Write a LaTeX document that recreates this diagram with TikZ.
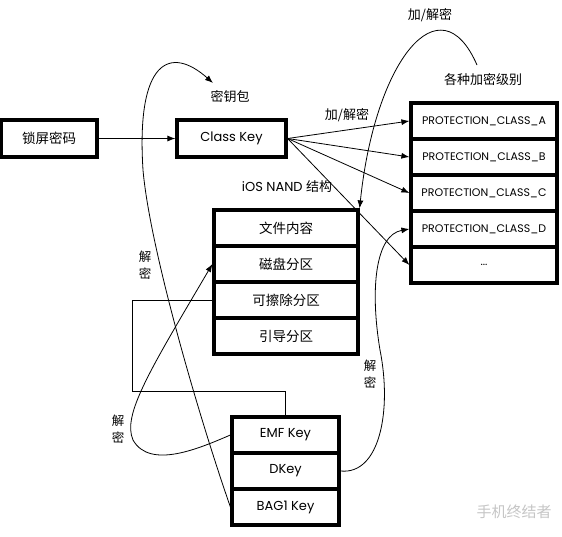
\documentclass[tikz,border=0pt]{standalone}
\usepackage{fontspec}
\setmainfont{Poppins}
\newfontfamily\cjk{Noto Sans CJK SC}
\usetikzlibrary{arrows.meta}
\tikzset{
  cell/.style={draw, line width=3.2pt, inner sep=0pt, font=\fontsize{13}{15}\selectfont},
  pcell/.style={cell, minimum width=146pt, minimum height=36pt, font=\fontsize{11}{13}\selectfont},
  ncell/.style={cell, minimum width=144pt, minimum height=36pt},
  kcell/.style={cell, minimum width=107pt, minimum height=36pt},
  lab/.style={inner sep=0pt, font=\fontsize{13}{15}\selectfont},
  vlab/.style={inner sep=0pt, align=center, font=\fontsize{12.5}{17}\selectfont\cjk},
  conn/.style={line width=0.8pt, -{Latex[length=8pt,width=6pt]}},
  plain/.style={line width=0.8pt}
}
\begin{document}
\begin{tikzpicture}[x=1pt,y=-1pt]
\useasboundingbox (0,0) rectangle (562,536);
\fill[white] (0,0) rectangle (562,536);

% top boxes
\node[cell, minimum width=96pt, minimum height=37pt, font=\fontsize{13.5}{15}\selectfont\cjk] (lock) at (49,138.5) {锁屏密码};
\node[cell, minimum width=109pt, minimum height=37pt] (ck) at (231.5,138.5) {Class Key};

% protection classes
\node[pcell] (pa) at (484,121) {PROTECTION\_CLASS\_A};
\node[pcell] (pb) at (484,157) {PROTECTION\_CLASS\_B};
\node[pcell] (pc) at (484,193) {PROTECTION\_CLASS\_C};
\node[pcell] (pd) at (484,229) {PROTECTION\_CLASS\_D};
\node[pcell] (pe) at (484,265) {...};

% NAND structure
\node[ncell, font=\fontsize{13.5}{15}\selectfont\cjk] (n1) at (286,228) {文件内容};
\node[ncell, font=\fontsize{13.5}{15}\selectfont\cjk] (n2) at (286,264) {磁盘分区};
\node[ncell, font=\fontsize{13.5}{15}\selectfont\cjk] (n3) at (286,300) {可擦除分区};
\node[ncell, font=\fontsize{13.5}{15}\selectfont\cjk] (n4) at (286,336) {引导分区};

% keys
\node[kcell] (ke) at (285.5,435) {EMF Key};
\node[kcell] (kd) at (285.5,471) {DKey};
\node[kcell] (kb) at (285.5,507) {BAG1 Key};

% labels
\node[lab, font=\fontsize{13}{15}\selectfont\cjk] (lbag) at (230,97) {密钥包};
\node[lab, font=\fontsize{13}{15}\selectfont\cjk] (lenc1) at (347,115) {加/解密};
\node[lab, font=\fontsize{13}{15}\selectfont\cjk] (lenc2) at (430,15) {加/解密};
\node[lab, font=\fontsize{13}{15}\selectfont\cjk] (llev) at (483,80) {各种加密级别};
\node[lab] (lnand) at (287,187) {iOS NAND {\cjk 结构}};
\node[vlab] (ld1) at (145,265) {解\\密};
\node[vlab] (ld2) at (118,429) {解\\密};
\node[vlab] (ld3) at (370,374) {解\\密};
\node[lab, text=gray!45, font=\fontsize{15}{17}\selectfont\cjk] (wm) at (514,512) {手机终结者};

\coordinate (bagend) at (213,83);
\coordinate (levstart) at (477,65);

% connectors
\draw[conn] (lock.east) -- (ck.west);
\draw[conn] (ck.east) -- (pa.west);
\draw[conn] (ck.east) -- (pb.west);
\draw[conn] (ck.east) -- (pc.west);
\draw[conn] (ck.east) -- (pe.west);

\draw[conn] (levstart) .. controls (440,-20) and (375,60) .. (n1.north east);

\draw[conn] (kb.west) .. controls (200,420) and (150,250) .. (143,170)
  .. controls (136,60) and (170,45) .. (bagend);

\draw[conn] (ke.west) .. controls (200,448) and (150,470) .. (133,440)
  .. controls (122,415) and (150,370) .. (n2.west);

\draw[plain] (n3.west) -| (132,391) -| (ke.north);

\draw[conn] (kd.east) .. controls (380,475) and (392,410) .. (380,350)
  .. controls (370,290) and (375,235) .. (pd.west);
\end{tikzpicture}
\end{document}
